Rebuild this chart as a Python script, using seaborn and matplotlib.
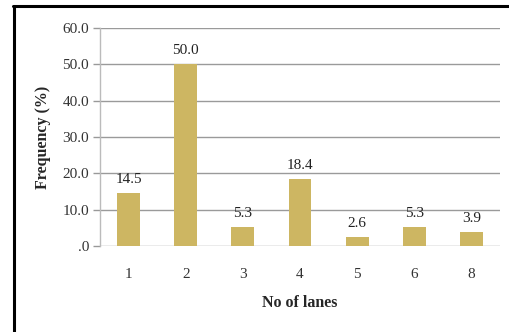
import matplotlib
matplotlib.use("Agg")
import matplotlib.pyplot as plt
import seaborn as sns
import pandas as pd
from matplotlib.lines import Line2D

lanes = ["1", "2", "3", "4", "5", "6", "8"]
frequency = [14.5, 50.0, 5.3, 18.4, 2.6, 5.3, 3.9]
y_ticks = [0, 10, 20, 30, 40, 50, 60]
y_tick_labels = [".0", "10.0", "20.0", "30.0", "40.0", "50.0", "60.0"]

sns.set_theme(style="white")
plt.rcParams["font.family"] = ["Liberation Serif", "DejaVu Serif"]

W, H = 509, 332
fig = plt.figure(figsize=(W / 100, H / 100), dpi=100)
ax = fig.add_axes([100 / W, 1 - 246 / H, 400 / W, 218 / H])

df = pd.DataFrame({"lanes": lanes, "freq": frequency})
sns.barplot(data=df, x="lanes", y="freq", order=lanes, color="#CDB662",
            saturation=1, width=0.4, linewidth=0, ax=ax, zorder=3)

ax.set_ylim(0, 60)
ax.set_yticks(y_ticks)
ax.set_yticklabels(y_tick_labels, fontsize=11, color="#333333")
ax.tick_params(axis="y", length=5, width=1, color="#999999", pad=3, left=True)
ax.tick_params(axis="x", length=0, pad=16, labelsize=11, labelcolor="#333333")
ax.yaxis.grid(True, color="#9a9a9a", linewidth=1)
ax.set_axisbelow(True)
for s in ["top", "right", "bottom"]:
    ax.spines[s].set_visible(False)
ax.spines["left"].set_color("#bbbbbb")
ax.spines["left"].set_linewidth(1)

ax.set_xlabel("No of lanes", fontsize=11.5, fontweight="bold", labelpad=10)
ax.set_ylabel("Frequency (%)", fontsize=11.5, fontweight="bold", labelpad=8)

for i, v in enumerate(frequency):
    ax.annotate(f"{v:.1f}", (i, v), xytext=(0, 5), textcoords="offset points",
                ha="center", va="bottom", fontsize=11, color="#222222")

# frame lines along the left and top
fig.add_artist(Line2D([13.5 / W, 13.5 / W], [0, 1 - 5.5 / H],
                      transform=fig.transFigure, color="black", linewidth=2.2))
fig.add_artist(Line2D([12.5 / W, 1], [1 - 5.5 / H, 1 - 5.5 / H],
                      transform=fig.transFigure, color="black", linewidth=2.2))

fig.savefig("out.png", dpi=100)
